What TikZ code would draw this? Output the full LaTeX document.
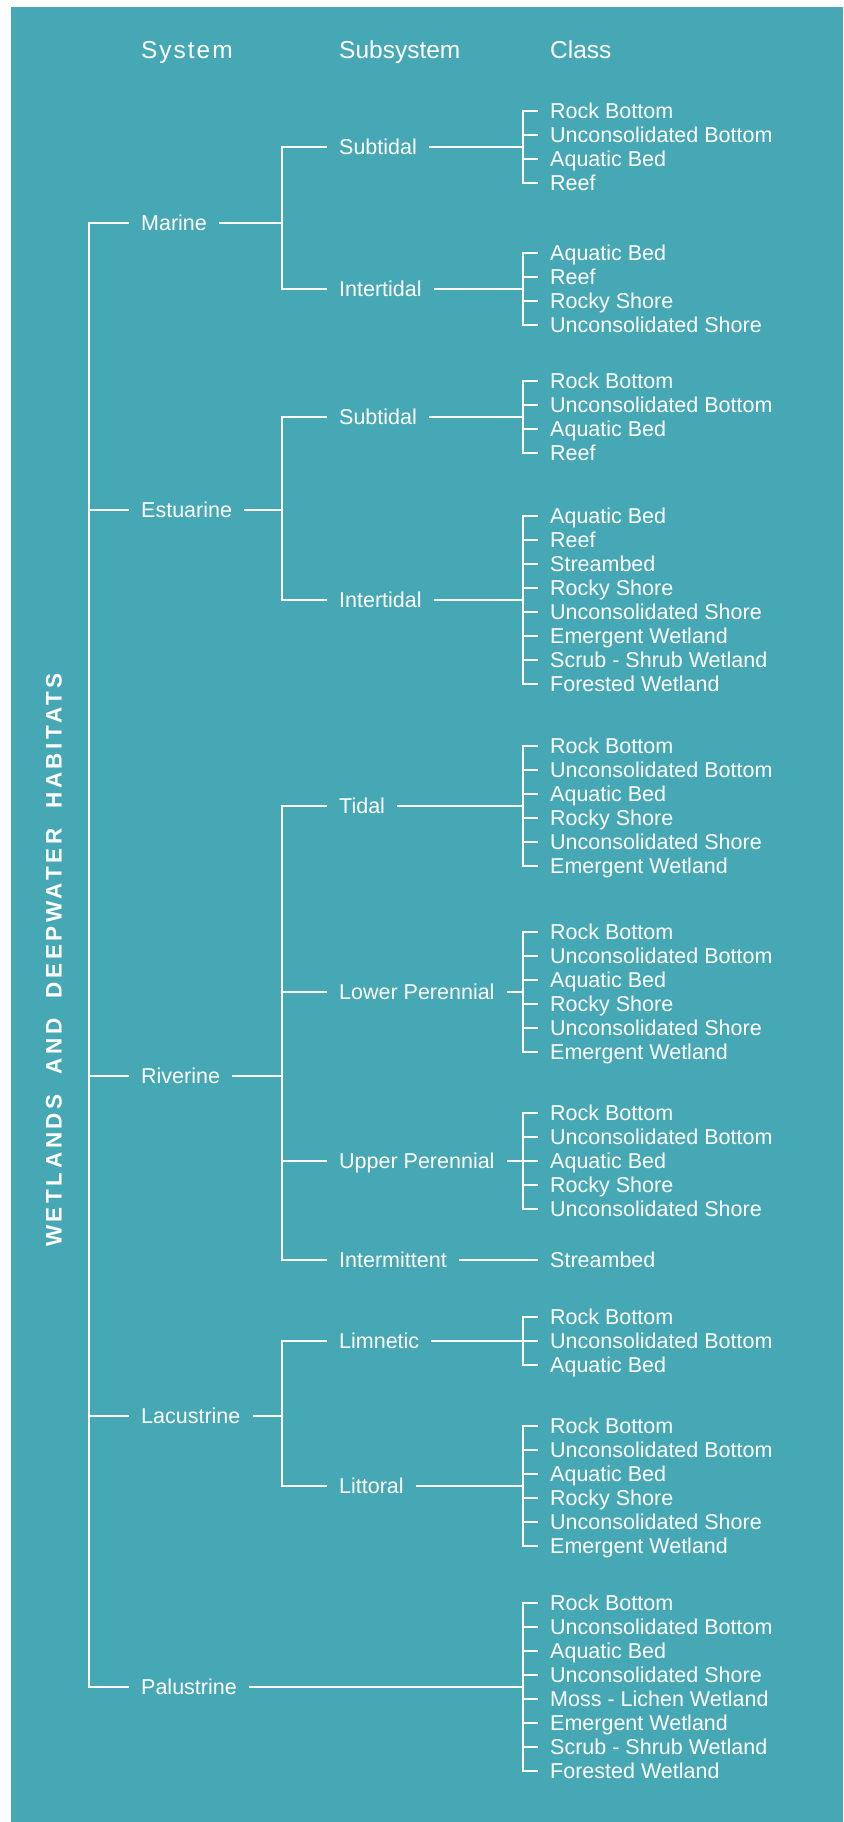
\documentclass[tikz,border=0pt]{standalone}
\usepackage{fontspec}
\setmainfont{Liberation Sans}

\definecolor{lagoon}{RGB}{71,168,181}

\tikzset{
	tree/.style={draw=white, line width=1.5pt},
	namenode/.style={anchor=west, text=white, inner xsep=12pt, inner ysep=0pt,
		text height=15.4pt, text depth=0pt, font=\fontsize{21.5}{24}\selectfont},
	headnode/.style={anchor=west, text=white, inner sep=0pt,
		text height=17.6pt, text depth=0pt, font=\fontsize{24.5}{28}\selectfont},
}

\begin{document}
\begin{tikzpicture}[x=1pt, y=-1pt]

	% panel
	\fill[white] (0,0) rectangle (843,1822);
	\fill[lagoon] (11,7) rectangle (843,1822);
	\useasboundingbox (0,0) rectangle (843,1822);

	% column heads
	\node[headnode] at (141,50) (hsys) {\addfontfeature{LetterSpace=8}System};
	\node[headnode] at (339,50) (hsub) {Subsystem};
	\node[headnode] at (550,50) (hcls) {Class};

	\node[rotate=90, text=white, font=\fontsize{22.5}{27}\selectfont\bfseries] at (54,960) (title)
		{\addfontfeature{LetterSpace=16}WETLANDS\hspace{20pt}AND\hspace{20pt}DEEPWATER\hspace{20pt}HABITATS};

	% systems
	\node[namenode] at (129,223) (marine) {Marine};
	\node[namenode] at (129,510) (estuarine) {Estuarine};
	\node[namenode] at (129,1076) (riverine) {Riverine};
	\node[namenode] at (129,1416) (lacustrine) {Lacustrine};
	\node[namenode] at (129,1687) (palustrine) {Palustrine};

	\coordinate (trunk) at (89,960);
	\foreach \s in {marine,estuarine,riverine,lacustrine,palustrine}
		\draw[tree] (trunk) |- (\s.west);

	% subsystems
	\node[namenode] at (327,147) (msub) {Subtidal};
	\node[namenode] at (327,289) (mint) {Intertidal};
	\node[namenode] at (327,417) (esub) {Subtidal};
	\node[namenode] at (327,600) (eint) {Intertidal};
	\node[namenode] at (327,806) (rtid) {Tidal};
	\node[namenode] at (327,992) (rlow) {Lower Perennial};
	\node[namenode] at (327,1161) (rupp) {Upper Perennial};
	\node[namenode] at (327,1260) (rint) {Intermittent};
	\node[namenode] at (327,1341) (llim) {Limnetic};
	\node[namenode] at (327,1486) (llit) {Littoral};

	\coordinate (marine-j) at (282,223);
	\coordinate (estuarine-j) at (282,510);
	\coordinate (riverine-j) at (282,1076);
	\coordinate (lacustrine-j) at (282,1416);
	\foreach \s in {marine,estuarine,riverine,lacustrine}
		\draw[tree] (\s.east) -- (\s-j);
	\foreach \s/\t in {marine/msub,marine/mint,estuarine/esub,estuarine/eint,
		riverine/rtid,riverine/rlow,riverine/rupp,riverine/rint,lacustrine/llim,lacustrine/llit}
		\draw[tree] (\s-j) |- (\t.west);

	% classes
	\coordinate (msub-j) at (523,147);
	\draw[tree] (msub.east) -- (msub-j);
	\foreach \c [count=\i from 0] in {Rock Bottom, Unconsolidated Bottom, Aquatic Bed, Reef} {
		\node[namenode] at (538,111+24*\i) (msub-\i) {\c};
		\draw[tree] (msub-j) |- (msub-\i.west);
	}

	\coordinate (mint-j) at (523,289);
	\draw[tree] (mint.east) -- (mint-j);
	\foreach \c [count=\i from 0] in {Aquatic Bed, Reef, Rocky Shore, Unconsolidated Shore} {
		\node[namenode] at (538,253+24*\i) (mint-\i) {\c};
		\draw[tree] (mint-j) |- (mint-\i.west);
	}

	\coordinate (esub-j) at (523,417);
	\draw[tree] (esub.east) -- (esub-j);
	\foreach \c [count=\i from 0] in {Rock Bottom, Unconsolidated Bottom, Aquatic Bed, Reef} {
		\node[namenode] at (538,381+24*\i) (esub-\i) {\c};
		\draw[tree] (esub-j) |- (esub-\i.west);
	}

	\coordinate (eint-j) at (523,600);
	\draw[tree] (eint.east) -- (eint-j);
	\foreach \c [count=\i from 0] in {Aquatic Bed, Reef, Streambed, Rocky Shore,
		Unconsolidated Shore, Emergent Wetland, Scrub - Shrub Wetland, Forested Wetland} {
		\node[namenode] at (538,516+24*\i) (eint-\i) {\c};
		\draw[tree] (eint-j) |- (eint-\i.west);
	}

	\coordinate (rtid-j) at (523,806);
	\draw[tree] (rtid.east) -- (rtid-j);
	\foreach \c [count=\i from 0] in {Rock Bottom, Unconsolidated Bottom, Aquatic Bed,
		Rocky Shore, Unconsolidated Shore, Emergent Wetland} {
		\node[namenode] at (538,746+24*\i) (rtid-\i) {\c};
		\draw[tree] (rtid-j) |- (rtid-\i.west);
	}

	\coordinate (rlow-j) at (523,992);
	\draw[tree] (rlow.east) -- (rlow-j);
	\foreach \c [count=\i from 0] in {Rock Bottom, Unconsolidated Bottom, Aquatic Bed,
		Rocky Shore, Unconsolidated Shore, Emergent Wetland} {
		\node[namenode] at (538,932+24*\i) (rlow-\i) {\c};
		\draw[tree] (rlow-j) |- (rlow-\i.west);
	}

	\coordinate (rupp-j) at (523,1161);
	\draw[tree] (rupp.east) -- (rupp-j);
	\foreach \c [count=\i from 0] in {Rock Bottom, Unconsolidated Bottom, Aquatic Bed,
		Rocky Shore, Unconsolidated Shore} {
		\node[namenode] at (538,1113+24*\i) (rupp-\i) {\c};
		\draw[tree] (rupp-j) |- (rupp-\i.west);
	}

	\node[namenode] at (538,1260) (rint-0) {Streambed};
	\draw[tree] (rint.east) -- (rint-0.west);

	\coordinate (llim-j) at (523,1341);
	\draw[tree] (llim.east) -- (llim-j);
	\foreach \c [count=\i from 0] in {Rock Bottom, Unconsolidated Bottom, Aquatic Bed} {
		\node[namenode] at (538,1317+24*\i) (llim-\i) {\c};
		\draw[tree] (llim-j) |- (llim-\i.west);
	}

	\coordinate (llit-j) at (523,1486);
	\draw[tree] (llit.east) -- (llit-j);
	\foreach \c [count=\i from 0] in {Rock Bottom, Unconsolidated Bottom, Aquatic Bed,
		Rocky Shore, Unconsolidated Shore, Emergent Wetland} {
		\node[namenode] at (538,1426+24*\i) (llit-\i) {\c};
		\draw[tree] (llit-j) |- (llit-\i.west);
	}

	\coordinate (palustrine-j) at (523,1687);
	\draw[tree] (palustrine.east) -- (palustrine-j);
	\foreach \c [count=\i from 0] in {Rock Bottom, Unconsolidated Bottom, Aquatic Bed,
		Unconsolidated Shore, Moss - Lichen Wetland, Emergent Wetland,
		Scrub - Shrub Wetland, Forested Wetland} {
		\node[namenode] at (538,1603+24*\i) (pal-\i) {\c};
		\draw[tree] (palustrine-j) |- (pal-\i.west);
	}

\end{tikzpicture}
\end{document}
